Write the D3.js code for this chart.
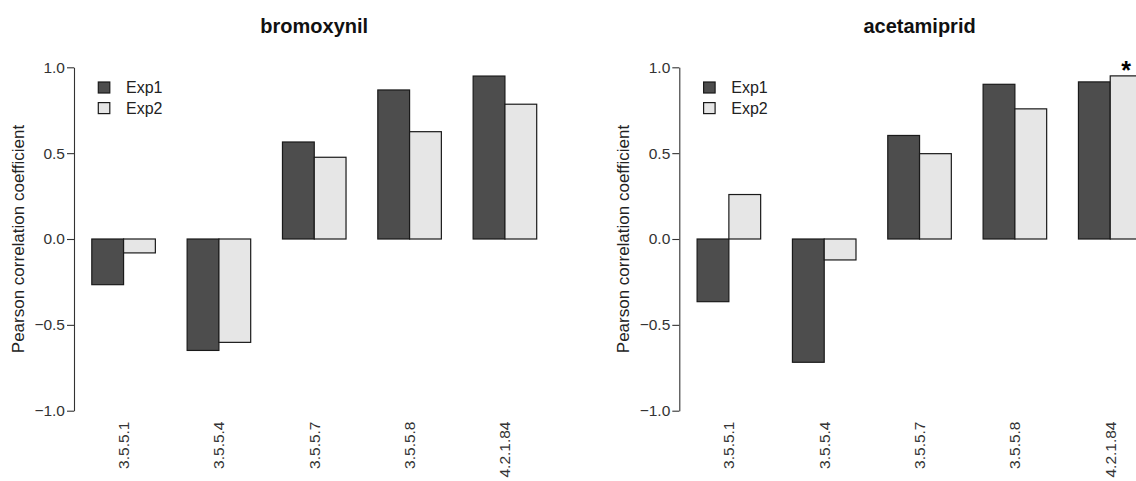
<!DOCTYPE html>
<html>
<head>
<meta charset="utf-8">
<script src="https://cdn.jsdelivr.net/npm/d3@7"></script>
<style>
  body { margin: 0; background: #fff; }
  svg { display: block; font-family: "Liberation Sans", Arial, Helvetica, sans-serif; }
</style>
</head>
<body>
<div id="chart"></div>
<script>
// data
var categories = ["3.5.5.1", "3.5.5.4", "3.5.5.7", "3.5.5.8", "4.2.1.84"];
var series = ["Exp1", "Exp2"];
var bromoxynilExp1 = [-0.266, -0.649, 0.565, 0.868, 0.949];
var bromoxynilExp2 = [-0.081, -0.602, 0.476, 0.625, 0.785];
var acetamipridExp1 = [-0.365, -0.718, 0.603, 0.901, 0.915];
var acetamipridExp2 = [0.259, -0.122, 0.497, 0.758, 0.950];
var yTicks = [-1, -0.5, 0, 0.5, 1];
var panelTitles = ["bromoxynil", "acetamiprid"];
var starred = [[], ["4.2.1.84|Exp2"]];

var width = 1136;
var height = 481;

var colors = { Exp1: "#4d4d4d", Exp2: "#e6e6e6" };

var svg = d3.select("#chart")
    .append("svg")
    .attr("width", width)
    .attr("height", height);

var y = d3.scaleLinear().domain([-1, 1]).range([410.7, 67.3]);

var panels = [
  { title: panelTitles[0], left: 74, values: { Exp1: bromoxynilExp1, Exp2: bromoxynilExp2 }, stars: starred[0] },
  { title: panelTitles[1], left: 679.3, values: { Exp1: acetamipridExp1, Exp2: acetamipridExp2 }, stars: starred[1] }
];

var plotWidth = 480.5;

panels.forEach(function(p) {
  var g = svg.append("g");
  var u = plotWidth / 15.12;

  var x0 = d3.scaleBand()
      .domain(categories)
      .range([p.left + 0.56 * u, p.left + plotWidth - 0.56 * u])
      .paddingInner(1 / 3)
      .paddingOuter(0);

  var x1 = d3.scaleBand()
      .domain(series)
      .range([0, x0.bandwidth()]);

  var rows = [];
  categories.forEach(function(c, i) {
    series.forEach(function(s) {
      rows.push({ cat: c, key: s, value: p.values[s][i] });
    });
  });

  // bars
  g.append("g")
    .selectAll("rect")
    .data(rows)
    .enter().append("rect")
      .attr("x", function(d) { return x0(d.cat) + x1(d.key); })
      .attr("y", function(d) { return Math.min(y(0), y(d.value)); })
      .attr("width", x1.bandwidth())
      .attr("height", function(d) { return Math.abs(y(d.value) - y(0)); })
      .attr("fill", function(d) { return colors[d.key]; })
      .attr("stroke", "#1a1a1a")
      .attr("stroke-width", 1.2);

  // significance marks
  g.append("g")
    .selectAll("text")
    .data(rows.filter(function(d) { return p.stars.indexOf(d.cat + "|" + d.key) >= 0; }))
    .enter().append("text")
      .attr("x", function(d) { return x0(d.cat) + x1(d.key) + x1.bandwidth() / 2; })
      .attr("y", function(d) { return y(d.value) + 3; })
      .attr("text-anchor", "middle")
      .attr("font-size", "25px")
      .attr("font-weight", "bold")
      .attr("fill", "#000")
      .text("*");

  // y axis
  var yAxis = g.append("g")
      .attr("transform", "translate(" + p.left + ",0)")
      .call(d3.axisLeft(y)
        .tickValues(yTicks)
        .tickFormat(d3.format(".1f"))
        .tickSize(7)
        .tickSizeOuter(0)
        .tickPadding(2));
  yAxis.selectAll("path, line").attr("stroke", "#333").attr("stroke-width", 1.1);
  yAxis.selectAll("text")
      .attr("font-size", "15.5px")
      .attr("font-family", "Liberation Sans, Arial, sans-serif")
      .attr("fill", "#333");

  // category labels, rotated
  g.append("g")
    .selectAll("text")
    .data(categories)
    .enter().append("text")
      .attr("transform", function(d) {
        return "translate(" + (x0(d) + x0.bandwidth() / 2) + ",421.5) rotate(-90)";
      })
      .attr("text-anchor", "end")
      .attr("dy", "0.35em")
      .attr("font-size", "15.5px")
      .attr("fill", "#333")
      .text(function(d) { return d; });

  // y label
  g.append("text")
    .attr("transform", "translate(" + (p.left - 56) + "," + y(0) + ") rotate(-90)")
    .attr("text-anchor", "middle")
    .attr("dy", "0.35em")
    .attr("font-size", "17px")
    .attr("fill", "#222")
    .text("Pearson correlation coefficient");

  // title
  g.append("text")
    .attr("x", p.left + plotWidth / 2)
    .attr("y", 33)
    .attr("text-anchor", "middle")
    .attr("font-size", "20px")
    .attr("font-weight", "bold")
    .attr("fill", "#111")
    .text(p.title);

  // legend
  var legend = g.append("g")
    .selectAll("g")
    .data(series)
    .enter().append("g")
      .attr("transform", function(d, i) { return "translate(" + (p.left + 24.3) + "," + (82 + i * 20.6) + ")"; });

  legend.append("rect")
    .attr("width", 11.5)
    .attr("height", 11)
    .attr("fill", function(d) { return colors[d]; })
    .attr("stroke", "#1a1a1a")
    .attr("stroke-width", 1.2);

  legend.append("text")
    .attr("x", 27.7)
    .attr("y", 11.3)
    .attr("font-size", "16px")
    .attr("fill", "#222")
    .text(function(d) { return d; });
});
</script>
</body>
</html>
